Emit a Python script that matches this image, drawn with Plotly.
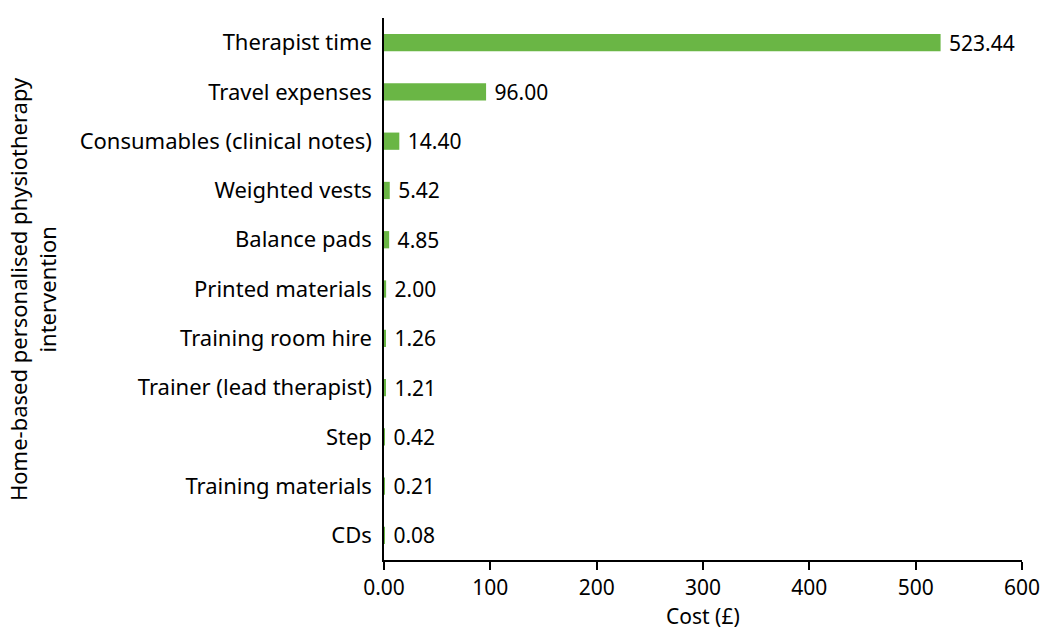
import plotly.graph_objects as go

categories = ["Therapist time", "Travel expenses", "Consumables (clinical notes)", "Weighted vests",
              "Balance pads", "Printed materials", "Training room hire", "Trainer (lead therapist)",
              "Step", "Training materials", "CDs"]
costs = [523.44, 96.00, 14.40, 5.42, 4.85, 2.00, 1.26, 1.21, 0.42, 0.21, 0.08]
tick_values = [0, 100, 200, 300, 400, 500, 600]
tick_labels = ["0.00", "100", "200", "300", "400", "500", "600"]

FONT = "Noto Sans"
SIZE = 21
L, R, T, B = 384, 24, 18, 70
PW, PH = 1046 - L - R, 630 - T - B

fig = go.Figure(go.Bar(
    y=categories, x=costs, orientation="h",
    marker=dict(color="#6ab645", line=dict(width=0)),
    width=0.35,
    text=[f"{v:.2f}" for v in costs], texttemplate=" %{text}", textposition="outside",
    textfont=dict(family=FONT, size=SIZE, color="black"),
    constraintext="none",
    cliponaxis=False,
))
fig.update_layout(
    width=1046, height=630,
    margin=dict(l=L, r=R, t=T, b=B, autoexpand=False),
    plot_bgcolor="white", paper_bgcolor="white",
    font=dict(family=FONT, size=SIZE, color="black"),
    showlegend=False,
    xaxis=dict(range=[0, 600], tickvals=tick_values, ticktext=tick_labels, automargin=False,
               showgrid=False, zeroline=False, showline=True, linecolor="black", linewidth=2,
               ticks="outside", ticklen=8, tickwidth=2, tickcolor="black",
               tickfont=dict(size=21)),
    yaxis=dict(autorange="reversed", showgrid=False, zeroline=False, showline=True, automargin=False,
               linecolor="black", linewidth=2, ticks="", ticksuffix=" ",
               tickfont=dict(size=22)),
    annotations=[
        dict(text="Home-based personalised physiotherapy<br>intervention",
             xref="paper", yref="paper", x=(32 - L) / PW, y=0.5,
             xanchor="center", yanchor="middle", textangle=-90, showarrow=False,
             font=dict(family=FONT, size=22, color="black")),
        dict(text="Cost (£)", xref="paper", yref="paper", x=0.5, y=-(616 - (T + PH)) / PH,
             xanchor="center", yanchor="middle", showarrow=False,
             font=dict(family=FONT, size=21, color="black")),
    ],
)
fig.write_html("out.html", config={"displayModeBar": False},
               post_script="document.body.style.margin='0';document.body.style.padding='0';")
